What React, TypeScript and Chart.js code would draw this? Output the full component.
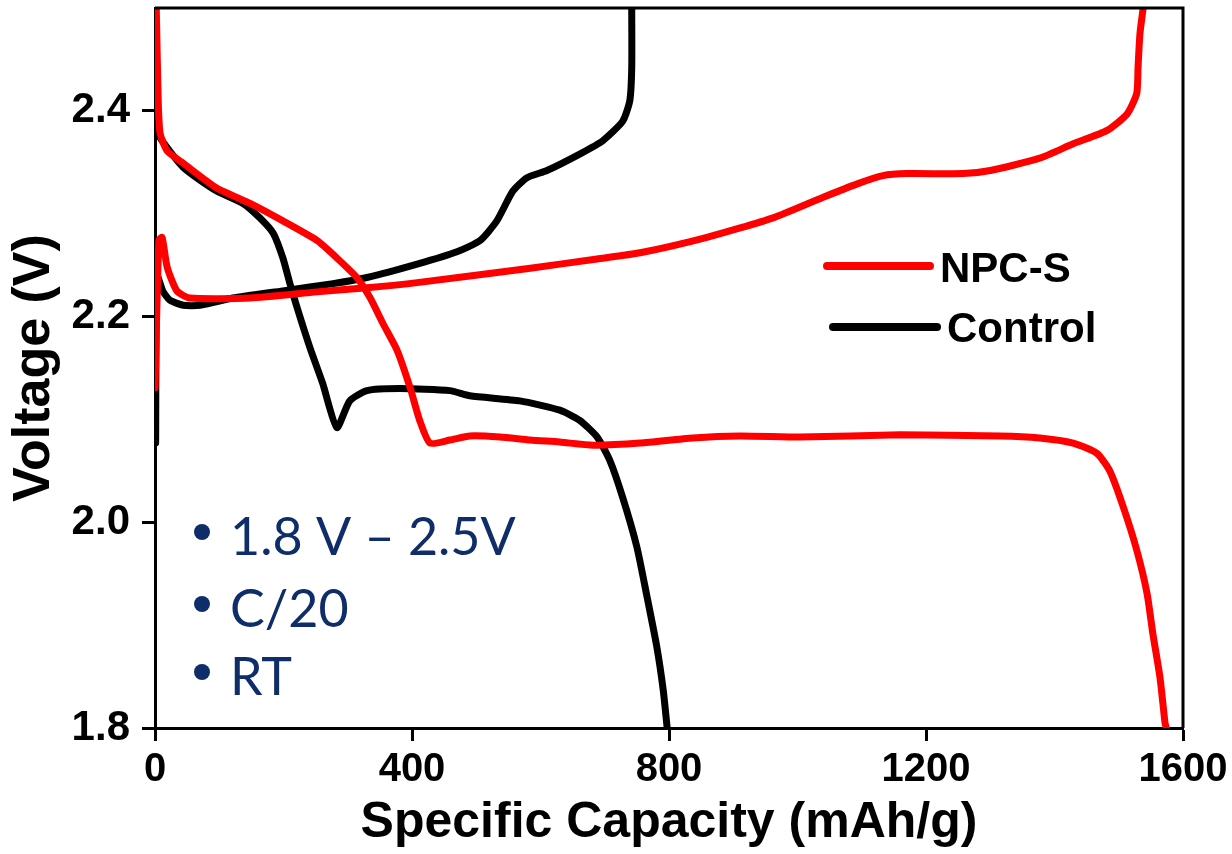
import React, { useEffect, useRef } from "react";
import { Chart, registerables } from "chart.js";

Chart.register(...registerables);

// ---- axis ticks ----
const xTicks = [0, 400, 800, 1200, 1600];
const yTicks = [1.8, 2.0, 2.2, 2.4];

// ---- series meta ----
const seriesNames = ["NPC-S", "Control"];
const seriesColors = ["#ff0000", "#000000"];
const notes = ["1.8 V \u2013 2.5V", "C/20", "RT"];

// ---- NPC-S charge ----
const npcsChargeCap = [0, 6, 11, 19, 34, 54, 148, 252, 330, 408, 584, 688, 755, 859, 962, 1040, 1093, 1133, 1170, 1258, 1300, 1377, 1429, 1482, 1513, 1528, 1530, 1533, 1538];
const npcsChargeV = [2.131, 2.274, 2.277, 2.248, 2.225, 2.218, 2.218, 2.224, 2.228, 2.233, 2.247, 2.256, 2.262, 2.277, 2.296, 2.316, 2.329, 2.337, 2.339, 2.339, 2.342, 2.354, 2.368, 2.381, 2.397, 2.417, 2.442, 2.475, 2.5];

// ---- NPC-S discharge ----
const npcsDischargeCap = [2, 5, 8, 19, 44, 96, 148, 199, 252, 283, 314, 335, 355, 377, 397, 412, 428, 459, 490, 537, 584, 630, 682, 755, 837, 910, 1004, 1160, 1315, 1377, 1429, 1466, 1486, 1507, 1528, 1544, 1553, 1564, 1572, 1574];
const npcsDischargeV = [2.5, 2.41, 2.378, 2.361, 2.349, 2.325, 2.31, 2.293, 2.274, 2.257, 2.238, 2.218, 2.193, 2.167, 2.131, 2.099, 2.077, 2.08, 2.084, 2.083, 2.08, 2.078, 2.075, 2.077, 2.082, 2.084, 2.083, 2.085, 2.084, 2.082, 2.077, 2.067, 2.05, 2.015, 1.973, 1.931, 1.892, 1.85, 1.805, 1.8];

// ---- Control charge ----
const controlChargeCap = [1, 3, 12, 23, 44, 70, 121, 199, 277, 330, 408, 470, 506, 532, 557, 579, 610, 661, 697, 728, 739, 742, 742];
const controlChargeV = [2.077, 2.24, 2.225, 2.216, 2.211, 2.211, 2.218, 2.225, 2.232, 2.238, 2.251, 2.263, 2.274, 2.293, 2.322, 2.335, 2.342, 2.358, 2.371, 2.39, 2.41, 2.442, 2.5];

// ---- Control discharge ----
const controlDischargeCap = [1, 8, 44, 96, 137, 163, 184, 199, 210, 221, 241, 261, 283, 303, 330, 381, 459, 490, 568, 630, 661, 688, 708, 728, 750, 766, 781, 791, 797];
const controlDischargeV = [2.39, 2.374, 2.345, 2.322, 2.31, 2.296, 2.281, 2.257, 2.232, 2.209, 2.17, 2.135, 2.092, 2.118, 2.128, 2.13, 2.128, 2.123, 2.118, 2.109, 2.099, 2.083, 2.06, 2.024, 1.976, 1.927, 1.879, 1.837, 1.801];

const toPts = (xs: number[], ys: number[]) => xs.map((x, i) => ({ x, y: ys[i] }));

const FONT = '"Liberation Sans", Arial, sans-serif';
const NOTE_FONT = 'Lato, "Open Sans", sans-serif';

const framePlugin = {
  id: "frame",
  afterDraw(chart: any) {
    const { ctx, chartArea } = chart;
    const { left, top, right, bottom } = chartArea;
    ctx.save();
    ctx.strokeStyle = "#000";
    ctx.lineWidth = 3;
    ctx.beginPath();
    ctx.moveTo(left, top);
    ctx.lineTo(right, top);
    ctx.lineTo(right, bottom);
    ctx.stroke();

    // legend
    const legendRows = [
      { x0: 827, x1: 930, y: 266, tx: 940, ty: 282 },
      { x0: 833, x1: 937, y: 327, tx: 947, ty: 342 },
    ];
    legendRows.forEach((r, i) => {
      ctx.strokeStyle = seriesColors[i];
      ctx.lineWidth = 8;
      ctx.lineCap = "round";
      ctx.beginPath();
      ctx.moveTo(r.x0, r.y);
      ctx.lineTo(r.x1, r.y);
      ctx.stroke();
      ctx.fillStyle = "#000";
      ctx.font = `bold 42px ${FONT}`;
      ctx.textAlign = "left";
      ctx.textBaseline = "alphabetic";
      ctx.fillText(seriesNames[i], r.tx, r.ty);
    });

    // notes
    const noteBase = [555, 627, 695];
    notes.forEach((t, i) => {
      ctx.fillStyle = "#0f2d69";
      ctx.beginPath();
      ctx.arc(202, noteBase[i] - 23, 8, 0, Math.PI * 2);
      ctx.fill();
      ctx.font = `52px ${NOTE_FONT}`;
      ctx.textAlign = "left";
      ctx.textBaseline = "alphabetic";
      ctx.fillText(t, 230, noteBase[i]);
    });
    ctx.restore();
  },
};

export default function App() {
  const ref = useRef<HTMLCanvasElement | null>(null);

  useEffect(() => {
    document.body.style.margin = "0";
    const canvas = ref.current;
    if (!canvas) return;
    const lineDs = (label: string, data: any[], color: string) => ({
      label,
      data,
      borderColor: color,
      backgroundColor: color,
      borderWidth: 7,
      pointRadius: 0,
      tension: 0.2,
      fill: false,
      borderJoinStyle: "round" as const,
      borderCapStyle: "round" as const,
    });
    const chart = new Chart(canvas, {
      type: "line",
      data: {
        datasets: [
          lineDs("NPC-S charge", toPts(npcsChargeCap, npcsChargeV), seriesColors[0]),
          lineDs("NPC-S discharge", toPts(npcsDischargeCap, npcsDischargeV), seriesColors[0]),
          lineDs("Control charge", toPts(controlChargeCap, controlChargeV), seriesColors[1]),
          lineDs("Control discharge", toPts(controlDischargeCap, controlDischargeV), seriesColors[1]),
        ],
      },
      options: {
        responsive: false,
        animation: false,
        devicePixelRatio: 1,
        layout: { padding: { top: 8, right: 49, left: 0, bottom: 0 } },
        plugins: { legend: { display: false }, tooltip: { enabled: false } },
        scales: {
          x: {
            type: "linear",
            min: 0,
            max: 1600,
            afterBuildTicks: (s: any) => {
              s.ticks = xTicks.map((v) => ({ value: v }));
            },
            afterFit: (s: any) => {
              s.height = 126;
              s.paddingLeft = 0;
              s.paddingRight = 0;
            },
            border: { display: true, color: "#000", width: 3 },
            grid: { display: true, drawOnChartArea: false, drawTicks: true, tickLength: 13, tickColor: "#000", tickWidth: 3 },
            ticks: {
              color: "#000",
              font: { family: FONT, size: 40, weight: "bold" },
              padding: 5,
              maxRotation: 0,
              autoSkip: false,
              callback: (v: any) => String(v),
            },
            title: {
              display: true,
              text: "Specific Capacity (mAh/g)",
              color: "#000",
              font: { family: FONT, size: 50, weight: "bold", lineHeight: 1 },
              padding: { top: 0, bottom: 6 },
            },
          },
          y: {
            type: "linear",
            min: 1.8,
            max: 2.5,
            afterBuildTicks: (s: any) => {
              s.ticks = yTicks.map((v) => ({ value: v }));
            },
            afterFit: (s: any) => {
              s.width = 155;
              s.paddingTop = 0;
              s.paddingBottom = 0;
            },
            border: { display: true, color: "#000", width: 3 },
            grid: { display: true, drawOnChartArea: false, drawTicks: true, tickLength: 13, tickColor: "#000", tickWidth: 3 },
            ticks: {
              color: "#000",
              font: { family: FONT, size: 42, weight: "bold" },
              padding: 12,
              autoSkip: false,
              callback: (v: any) => Number(v).toFixed(1),
            },
            title: {
              display: true,
              text: "Voltage (V)",
              color: "#000",
              font: { family: FONT, size: 52, weight: "bold", lineHeight: 1 },
              padding: { top: 9, bottom: 0 },
            },
          },
        },
      },
      plugins: [framePlugin],
    });
    return () => chart.destroy();
  }, []);

  return (
    <div style={{ width: 1232, height: 854, position: "relative" }}>
      <canvas ref={ref} width={1232} height={854} style={{ display: "block" }} />
    </div>
  );
}
